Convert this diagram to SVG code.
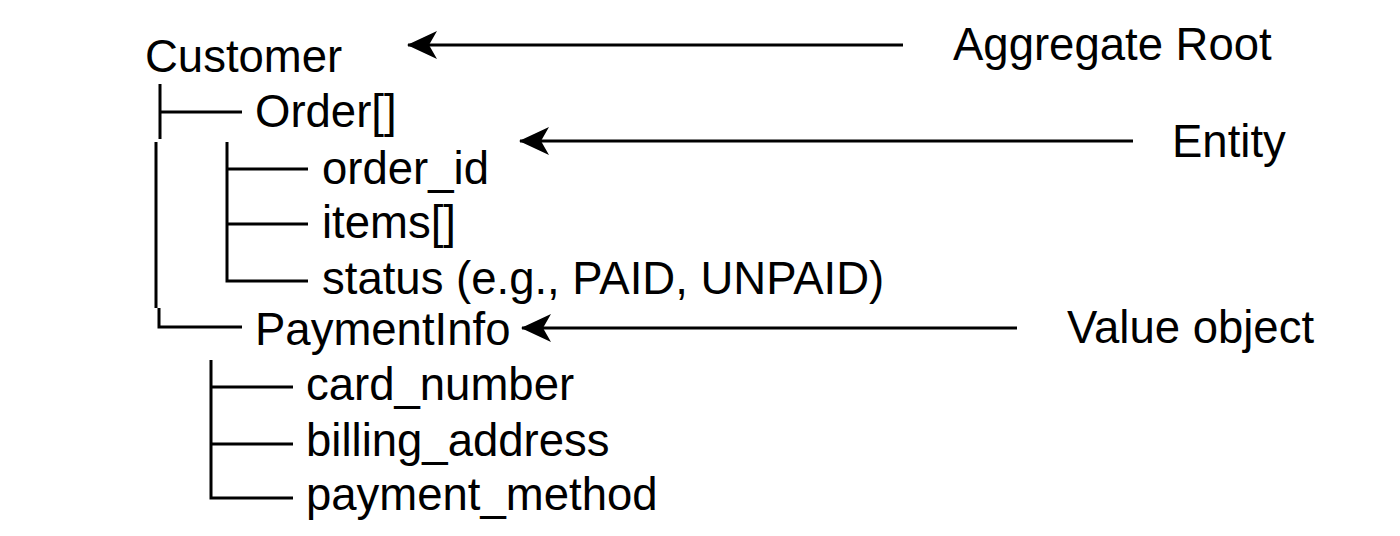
<svg xmlns="http://www.w3.org/2000/svg" width="1400" height="536" viewBox="0 0 1400 536">
<style>
text{font-family:"Liberation Sans",Arial,sans-serif;font-size:45.5px;fill:#000}
.t{stroke:#000;stroke-width:3;fill:none}
.c{stroke:#000;stroke-width:3;fill:none}
</style>
<defs>
<marker id="ah" viewBox="0 0 30 28" refX="29" refY="14" markerWidth="30" markerHeight="28" markerUnits="userSpaceOnUse" orient="auto">
<path d="M0,0 L30,14 L0,28 L8,14 Z" fill="#000"/>
</marker>
</defs>
<rect width="1400" height="536" fill="#fff"/>
<g id="tree" class="t">
<path d="M160,84V139M160,112H242"/>
<path d="M156,142V308M159,308V327H242"/>
<path d="M227,142V281H308M227,169H308M227,224H308"/>
<path d="M211,360V498H293M211,387H293M211,444H293"/>
</g>
<g id="customer"><text x="145" y="72">Customer</text></g>
<g id="order"><text x="255" y="127">Order[]</text></g>
<g id="order_id"><text x="322" y="184">order_id</text></g>
<g id="items"><text x="322" y="238">items[]</text></g>
<g id="status"><text x="322" y="294">status (e.g., PAID, UNPAID)</text></g>
<g id="paymentinfo"><text x="255" y="345">PaymentInfo</text></g>
<g id="card_number"><text x="306" y="400">card_number</text></g>
<g id="billing_address"><text x="306" y="456">billing_address</text></g>
<g id="payment_method"><text x="306" y="510">payment_method</text></g>
<g id="aggregate_root"><text x="953" y="60">Aggregate Root</text></g>
<g id="entity"><text x="1172" y="157">Entity</text></g>
<g id="value_object"><text x="1067" y="343">Value object</text></g>
<g id="connectors" class="c">
<line x1="903" y1="45" x2="408" y2="45" marker-end="url(#ah)"/>
<line x1="1133" y1="141" x2="520" y2="141" marker-end="url(#ah)"/>
<line x1="1017" y1="328" x2="522" y2="328" marker-end="url(#ah)"/>
</g>
</svg>
